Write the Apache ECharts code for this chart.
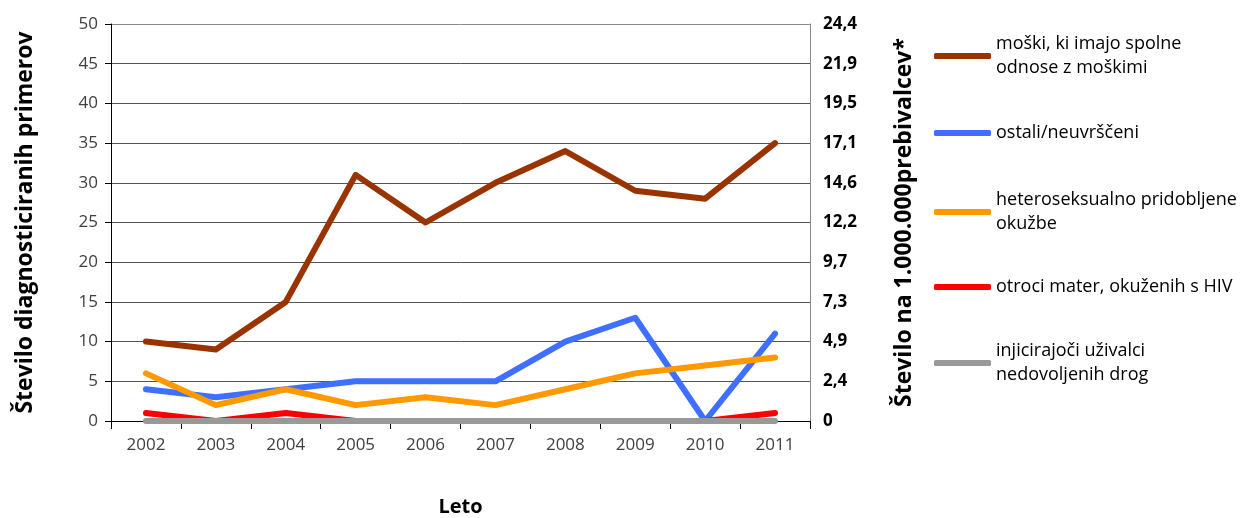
<!DOCTYPE html>
<html><head><meta charset="utf-8">
<script src="https://cdn.jsdelivr.net/npm/echarts@6/dist/echarts.min.js"></script>
<style>html,body{margin:0;padding:0;background:#fff;overflow:hidden}#c{width:1243px;height:518px}</style>
</head><body><div id="c"></div>
<script>
var years = ['2002','2003','2004','2005','2006','2007','2008','2009','2010','2011'];
var seriesNames = ['moški, ki imajo spolne odnose z moškimi','ostali/neuvrščeni','heteroseksualno pridobljene okužbe','otroci mater, okuženih s HIV','injicirajoči uživalci nedovoljenih drog'];
var legendLines = [['moški, ki imajo spolne','odnose z moškimi'],['ostali/neuvrščeni'],['heteroseksualno pridobljene','okužbe'],['otroci mater, okuženih s HIV'],['injicirajoči uživalci','nedovoljenih drog']];
var msm = [10, 9, 15, 31, 25, 30, 34, 29, 28, 35];
var ostali = [4, 3, 4, 5, 5, 5, 10, 13, 0, 11];
var hetero = [6, 2, 4, 2, 3, 2, 4, 6, 7, 8];
var otroci = [1, 0, 1, 0, 0, 0, 0, 0, 0, 1];
var idu = [0, 0, 0, 0, 0, 0, 0, 0, 0, 0];
var leftTicks = ['0','5','10','15','20','25','30','35','40','45','50'];
var rightTicks = ['0','2,4','4,9','7,3','9,7','12,2','14,6','17,1','19,5','21,9','24,4'];
var colors = ['#993300','#3f6fff','#ff9900','#ff0000','#999999'];
var values = [msm, ostali, hetero, otroci, idu];
var legendIconY = [56, 133, 212, 287, 363];

var FONT = '"Open Sans"';
var LH = 24;
var chart = echarts.init(document.getElementById('c'));
var legends = seriesNames.map(function(n, i){
  var two = legendLines[i].length > 1;
  return {
    data: [n], left: 934, top: legendIconY[i] - (two ? LH * 1.5 : LH / 2), orient: 'vertical',
    icon: 'roundRect', itemWidth: 57, itemHeight: 6, padding: 0,
    formatter: function(){ return legendLines[i].join('\n'); },
    textStyle: { fontFamily: FONT, fontSize: 18, color: '#000', lineHeight: LH,
      padding: two ? [LH, 0, 0, 0] : 0 },
    selectedMode: false
  };
});
var splitColors = [];
for (var k = 0; k < 10; k++) splitColors.push('#555');
splitColors.push('#8c8c8c');
chart.setOption({
  animation: false,
  color: colors,
  grid: { left: 111, right: 433, top: 24, bottom: 97, containLabel: false, outerBoundsMode: 'none' },
  legend: legends,
  xAxis: {
    type: 'category', data: years, boundaryGap: true,
    name: 'Leto', nameLocation: 'middle', nameGap: 76,
    nameTextStyle: { fontFamily: FONT, fontSize: 20, fontWeight: 'bold', color: '#000' },
    axisLine: { lineStyle: { color: '#000', width: 1 } },
    axisTick: { show: true, alignWithLabel: false, length: 8, lineStyle: { color: '#000' } },
    axisLabel: { fontFamily: FONT, fontSize: 17, color: '#404040', margin: 16 }
  },
  yAxis: [{
    type: 'value', min: 0, max: 50, interval: 5, position: 'left',
    name: 'Število diagnosticiranih primerov', nameLocation: 'middle', nameGap: 74, nameRotate: 90,
    nameTextStyle: { fontFamily: FONT, fontSize: 23, fontWeight: 'bold', color: '#000' },
    axisLine: { show: true, lineStyle: { color: '#000' } },
    axisTick: { show: true, length: 6, lineStyle: { color: '#000' } },
    axisLabel: { fontFamily: FONT, fontSize: 17, color: '#404040', margin: 13,
      formatter: function(v){ return leftTicks[Math.round(v/5)]; } },
    splitLine: { show: true, lineStyle: { color: splitColors, width: 1 } }
  }, {
    type: 'value', min: 0, max: 50, interval: 5, position: 'right',
    name: 'Število na 1.000.000prebivalcev*', nameLocation: 'middle', nameGap: 83, nameRotate: 90,
    nameTextStyle: { fontFamily: FONT, fontSize: 23, fontWeight: 'bold', color: '#000' },
    axisLine: { show: true, lineStyle: { color: '#888' } },
    axisTick: { show: false },
    axisLabel: { fontFamily: FONT, fontSize: 17, fontWeight: 'bold', color: '#000', margin: 13,
      formatter: function(v){ return rightTicks[Math.round(v/5)]; } },
    splitLine: { show: false }
  }],
  series: seriesNames.map(function(n, i){
    return { name: n, type: 'line', data: values[i], yAxisIndex: 0,
      showSymbol: false, symbol: 'none',
      lineStyle: { width: 6, color: colors[i], cap: 'round', join: 'round' },
      itemStyle: { color: colors[i] }, z: 2 + i };
  })
});
</script></body></html>
